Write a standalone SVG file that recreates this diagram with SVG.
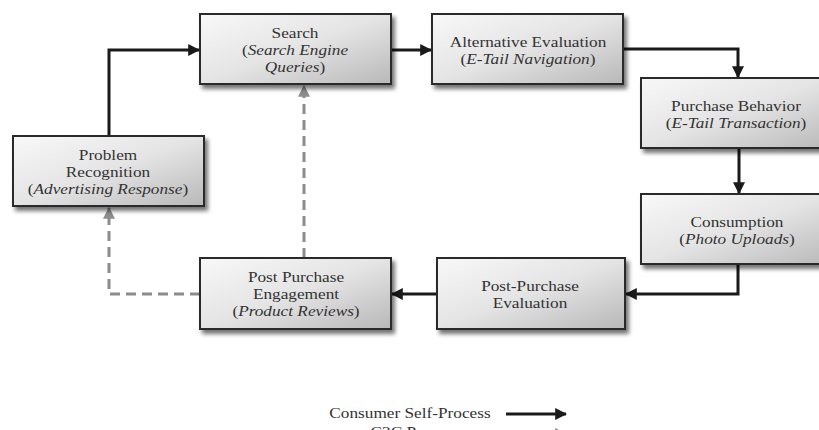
<svg xmlns="http://www.w3.org/2000/svg" width="819" height="430" viewBox="0 0 819 430">
<defs>
<linearGradient id="g" x1="0" y1="0" x2="1" y2="1">
<stop offset="0" stop-color="#f8f8f8"/>
<stop offset="0.5" stop-color="#e4e4e4"/>
<stop offset="1" stop-color="#b8b8b8"/>
</linearGradient>
<filter id="sh" x="-10%" y="-10%" width="130%" height="140%">
<feGaussianBlur in="SourceAlpha" stdDeviation="2"/>
<feOffset dx="3" dy="4" result="b"/>
<feComponentTransfer><feFuncA type="linear" slope="0.55"/></feComponentTransfer>
<feMerge><feMergeNode/><feMergeNode in="SourceGraphic"/></feMerge>
</filter>
<marker id="ab" viewBox="0 0 10 10" refX="9" refY="5" markerWidth="4" markerHeight="4" orient="auto" markerUnits="strokeWidth">
<path d="M0,0 L10,5 L0,10 Z" fill="#1a1a1a"/>
</marker>
<marker id="ag" viewBox="0 0 10 10" refX="9" refY="5" markerWidth="4" markerHeight="4" orient="auto" markerUnits="strokeWidth">
<path d="M0,0 L10,5 L0,10 Z" fill="#8c8c8c"/>
</marker>
</defs>
<style>
.box{fill:url(#g);stroke:#2a2a2a;stroke-width:2;filter:url(#sh)}
.c{fill:none;stroke:#1a1a1a;stroke-width:3;marker-end:url(#ab)}
.d{fill:none;stroke:#8c8c8c;stroke-width:3;stroke-dasharray:10 6;marker-end:url(#ag)}
</style>
<rect width="819" height="430" fill="#ffffff"/>

<g id="connectors">
<path class="c" d="M109,136 V50 H199"/>
<path class="c" d="M391,50 H431"/>
<path class="c" d="M623,49 H738 V77"/>
<path class="c" d="M739,148 V193"/>
<path class="c" d="M738,264 V294 H626"/>
<path class="c" d="M437,294 H392"/>
<path class="d" d="M304,258 V86"/>
<path class="d" d="M200,294 H109 V208"/>
</g>

<g id="problem-recognition">
<rect class="box" x="13" y="136" width="191" height="70"/>
<g transform="translate(108,0) scale(1.15,1)" font-family="Liberation Serif" font-size="15" fill="#333" text-anchor="middle">
<text x="0" y="160" font-family="Liberation Serif">Problem</text>
<text x="0" y="177" font-family="Liberation Serif">Recognition</text>
<text x="0" y="194" font-family="Liberation Serif">(<tspan font-style="italic">Advertising Response</tspan>)</text>
</g>
</g>

<g id="search">
<rect class="box" x="200" y="14" width="191" height="70"/>
<g transform="translate(295,0) scale(1.15,1)" font-family="Liberation Serif" font-size="15" fill="#333" text-anchor="middle">
<text x="0" y="38" font-family="Liberation Serif">Search</text>
<text x="0" y="55" font-family="Liberation Serif">(<tspan font-style="italic">Search Engine</tspan></text>
<text x="0" y="72" font-family="Liberation Serif"><tspan font-style="italic">Queries</tspan>)</text>
</g>
</g>

<g id="alternative-evaluation">
<rect class="box" x="432" y="14" width="191" height="70"/>
<g transform="translate(528,0) scale(1.15,1)" font-family="Liberation Serif" font-size="15" fill="#333" text-anchor="middle">
<text x="0" y="47" font-family="Liberation Serif">Alternative Evaluation</text>
<text x="0" y="64" font-family="Liberation Serif">(<tspan font-style="italic">E-Tail Navigation</tspan>)</text>
</g>
</g>

<g id="purchase-behavior">
<rect class="box" x="641" y="78" width="191" height="70"/>
<g transform="translate(736,0) scale(1.15,1)" font-family="Liberation Serif" font-size="15" fill="#333" text-anchor="middle">
<text x="0" y="111" font-family="Liberation Serif">Purchase Behavior</text>
<text x="0" y="128" font-family="Liberation Serif">(<tspan font-style="italic">E-Tail Transaction</tspan>)</text>
</g>
</g>

<g id="consumption">
<rect class="box" x="641" y="194" width="191" height="70"/>
<g transform="translate(737,0) scale(1.15,1)" font-family="Liberation Serif" font-size="15" fill="#333" text-anchor="middle">
<text x="0" y="227" font-family="Liberation Serif">Consumption</text>
<text x="0" y="244" font-family="Liberation Serif">(<tspan font-style="italic">Photo Uploads</tspan>)</text>
</g>
</g>

<g id="post-purchase-evaluation">
<rect class="box" x="437" y="258" width="188" height="71"/>
<g transform="translate(530,0) scale(1.15,1)" font-family="Liberation Serif" font-size="15" fill="#333" text-anchor="middle">
<text x="0" y="291" font-family="Liberation Serif">Post-Purchase</text>
<text x="0" y="308" font-family="Liberation Serif">Evaluation</text>
</g>
</g>

<g id="post-purchase-engagement">
<rect class="box" x="200" y="258" width="191" height="71"/>
<g transform="translate(296,0) scale(1.15,1)" font-family="Liberation Serif" font-size="15" fill="#333" text-anchor="middle">
<text x="0" y="282" font-family="Liberation Serif">Post Purchase</text>
<text x="0" y="299" font-family="Liberation Serif">Engagement</text>
<text x="0" y="316" font-family="Liberation Serif">(<tspan font-style="italic">Product Reviews</tspan>)</text>
</g>
</g>

<g id="legend">
<g transform="translate(410,0) scale(1.15,1)" font-family="Liberation Serif" font-size="15" fill="#333" text-anchor="middle">
<text x="0" y="418" font-family="Liberation Serif">Consumer  Self-Process</text>
</g>
<path class="c" d="M506,414 H566"/>
<g transform="translate(422,0) scale(1.15,1)" font-family="Liberation Serif" font-size="15" fill="#333" text-anchor="middle">
<text x="0" y="437" font-family="Liberation Serif">C2C Processes</text>
</g>
<path class="d" d="M506,434 H566"/>
</g>
</svg>
